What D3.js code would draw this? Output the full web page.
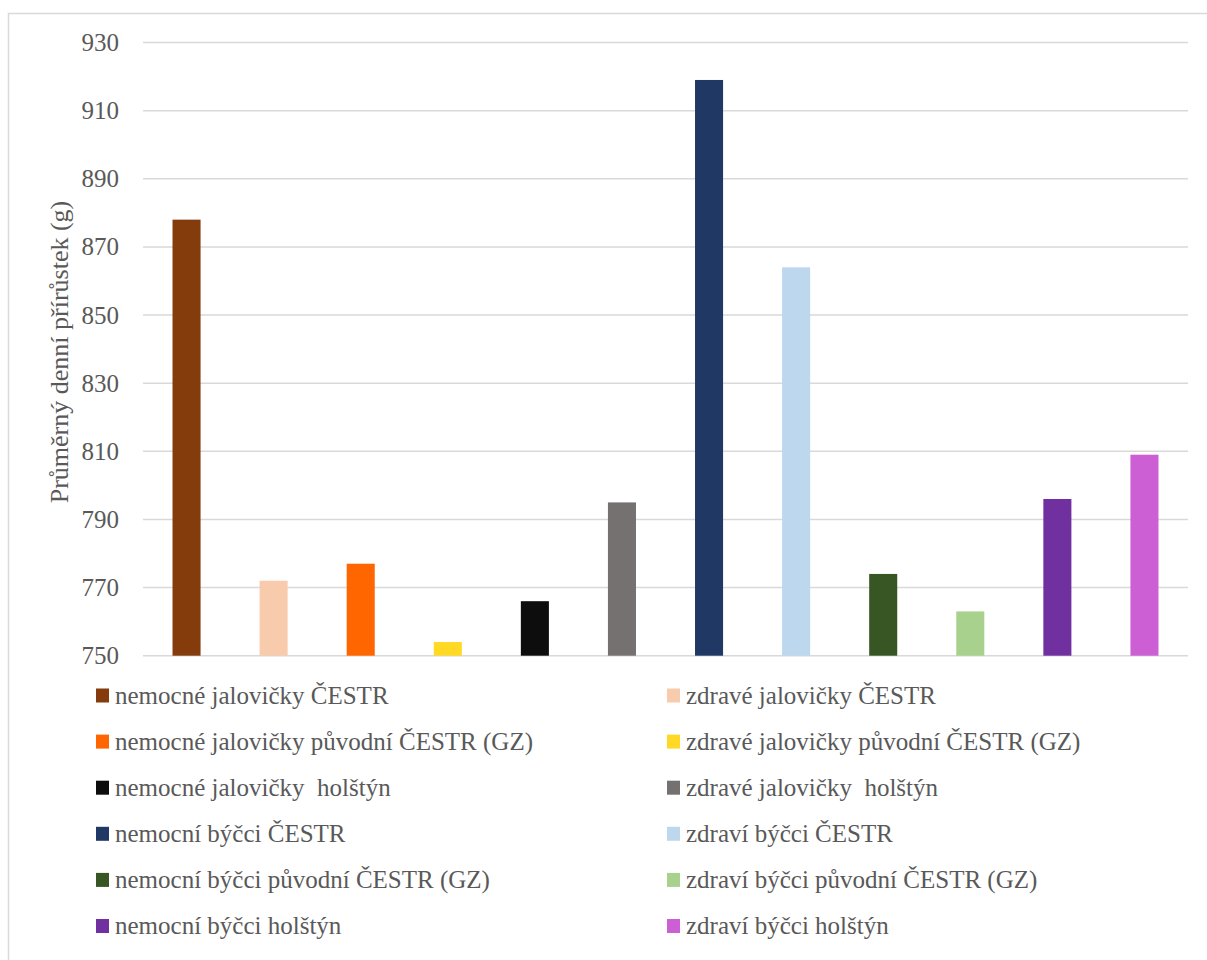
<!DOCTYPE html>
<html><head><meta charset="utf-8">
<script src="https://cdn.jsdelivr.net/npm/d3@7"></script>
<style>body{margin:0;background:#fff} text{font-family:"Liberation Serif","DejaVu Serif","Times New Roman",serif;}</style>
</head><body>
<script>
const categories = [
  "nemocné jalovičky ČESTR","zdravé jalovičky ČESTR",
  "nemocné jalovičky původní ČESTR (GZ)","zdravé jalovičky původní ČESTR (GZ)",
  "nemocné jalovičky  holštýn","zdravé jalovičky  holštýn",
  "nemocní býčci ČESTR","zdraví býčci ČESTR",
  "nemocní býčci původní ČESTR (GZ)","zdraví býčci původní ČESTR (GZ)",
  "nemocní býčci holštýn","zdraví býčci holštýn"];
const values = [878, 772, 777, 754, 766, 795, 919, 864, 774, 763, 796, 809];
const colors = ["#843C0C","#F8CBAD","#FF6600","#FFD923","#0D0D0D","#767171",
  "#203864","#BDD7EE","#375623","#A9D18E","#7030A0","#CC5FD4"];
const yTicks = [750,770,790,810,830,850,870,890,910,930];
const yTitle = "Průměrný denní přírůstek (g)";

const W = 1207, H = 960;
const svg = d3.select("body").append("svg").attr("width", W).attr("height", H);

svg.append("rect").attr("x", 8.5).attr("y", 13.5).attr("width", 1210).attr("height", 960)
  .attr("fill", "#fff").attr("stroke", "#d9d9d9").attr("stroke-width", 1.5);

const x = d3.scaleBand().domain(categories).range([143, 1188]).paddingInner(0.678).paddingOuter(0.339);
const y = d3.scaleLinear().domain([750, 930]).range([655.7, 42.5]);

const gy = svg.append("g");
gy.selectAll("line").data(yTicks).join("line")
  .attr("x1", 143).attr("x2", 1188)
  .attr("y1", d => y(d)).attr("y2", d => y(d))
  .attr("stroke", "#d9d9d9").attr("stroke-width", 1.5);
gy.selectAll("text").data(yTicks).join("text")
  .attr("x", 119).attr("y", d => y(d) + 8.5)
  .attr("text-anchor", "end").attr("fill", "#595959").attr("font-size", 25)
  .text(d => d);

svg.append("g").selectAll("rect").data(values).join("rect")
  .attr("x", (d, i) => x(categories[i]))
  .attr("width", x.bandwidth())
  .attr("y", d => y(d))
  .attr("height", d => y(750) - y(d))
  .attr("fill", (d, i) => colors[i]);

svg.append("text")
  .attr("transform", "translate(68,352) rotate(-90)")
  .attr("text-anchor", "middle").attr("fill", "#595959").attr("font-size", 26)
  .text(yTitle);

const leg = svg.append("g");
categories.forEach((c, i) => {
  const col = i % 2, row = Math.floor(i / 2);
  const mx = col === 0 ? 96 : 667;
  const cy = 695.5 + row * 46.1;
  leg.append("rect").attr("x", mx).attr("y", cy - 7).attr("width", 13).attr("height", 14)
    .attr("fill", colors[i]);
  leg.append("text").attr("x", mx + 19).attr("y", cy + 8)
    .attr("fill", "#595959").attr("font-size", 25)
    .attr("xml:space", "preserve").style("white-space", "pre")
    .text(c);
});
</script>
</body></html>
